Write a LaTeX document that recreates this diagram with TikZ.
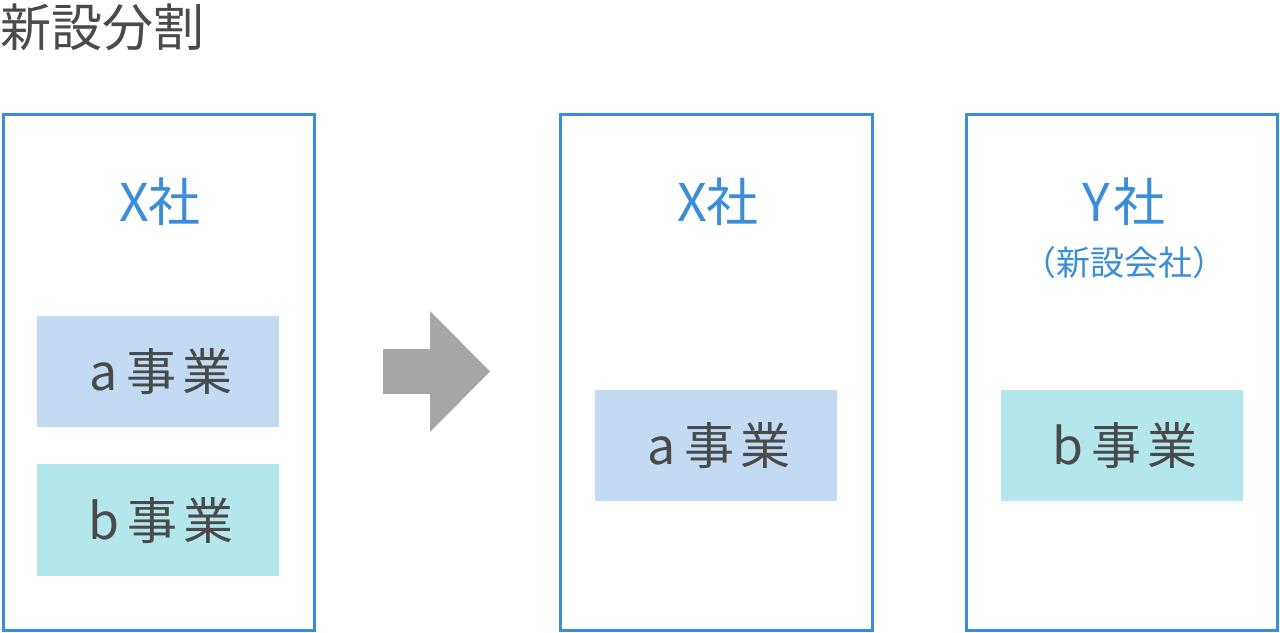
\documentclass[tikz,border=0pt]{standalone}
\usepackage{fontspec}
\setmainfont{Noto Sans CJK JP}
\newfontfamily\jp{Noto Sans CJK JP}
\definecolor{frameblue}{HTML}{3A8DD8}
\definecolor{txtblue}{HTML}{3A8DD8}
\definecolor{abox}{HTML}{C2DBF3}
\definecolor{bbox}{HTML}{B3E7EC}
\definecolor{txtgray}{HTML}{4A4A4A}
\definecolor{arrowgray}{HTML}{A6A6A6}
\begin{document}
\begin{tikzpicture}[x=1pt,y=-1pt,
  company/.style={draw=frameblue,line width=3pt},
  bizlabel/.style={font=\fontsize{50}{54}\selectfont\jp,text=txtgray,inner sep=0pt},
  complabel/.style={font=\fontsize{52}{56}\selectfont\jp,text=txtblue,inner sep=0pt},
  sublabel/.style={font=\fontsize{34}{38}\selectfont\jp,text=txtblue,inner sep=0pt},
  titlelabel/.style={font=\fontsize{51}{55}\selectfont\jp,text=txtgray,inner sep=0pt,anchor=west}
]
\useasboundingbox (0,0) rectangle (1280,632);
\fill[white] (0,0) rectangle (1280,632);
% title
\node[titlelabel] (title) at (0,27) {新設分割};
% company frames
\draw[company] (3,114) rectangle (314,630);
\draw[company] (560,114) rectangle (872,630);
\draw[company] (966,114) rectangle (1277,630);
% business boxes
\fill[abox] (37,316) rectangle (279,427);
\fill[bbox] (37,464) rectangle (279,576);
\fill[abox] (595,390) rectangle (837,501);
\fill[bbox] (1001,390) rectangle (1243,501);
% labels
\node[complabel] (x1) at (160,202) {X社};
\node[complabel] (x2) at (718,202) {X社};
\node[complabel] (y1) at (1124,202) {Y\hspace{4pt}社};
\node[sublabel] (y1s) at (1124,263) {（新設会社）};
\node[bizlabel] (a1) at (161,372) {a\hspace{8pt}事\hspace{6pt}業};
\node[bizlabel] (b1) at (161,521) {b\hspace{8pt}事\hspace{6pt}業};
\node[bizlabel] (a2) at (719,446) {a\hspace{8pt}事\hspace{6pt}業};
\node[bizlabel] (b2) at (1125,446) {b\hspace{8pt}事\hspace{6pt}業};
% arrow
\fill[arrowgray] (383,349) rectangle (431,394);
\fill[arrowgray] (430,311) -- (490,371.5) -- (430,432) -- cycle;
\end{tikzpicture}
\end{document}
